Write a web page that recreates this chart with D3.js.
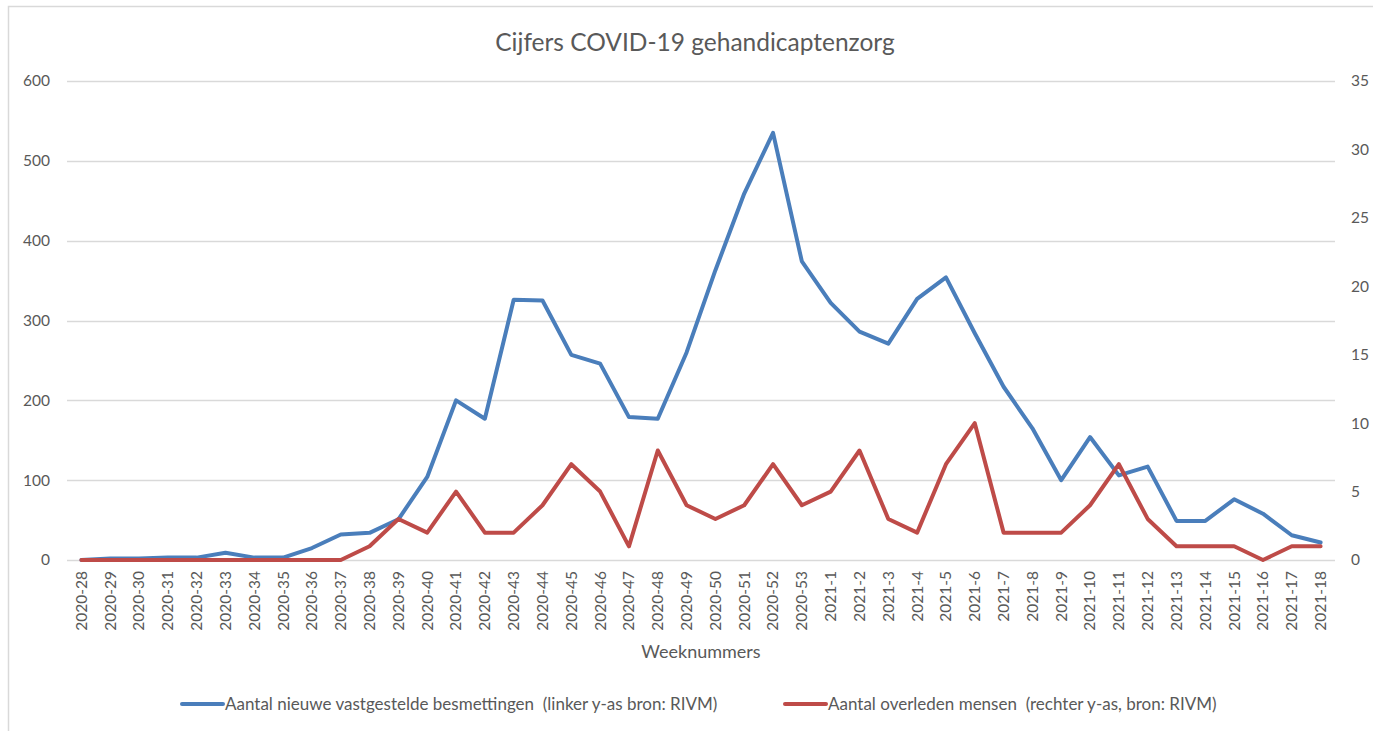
<!DOCTYPE html>
<html>
<head>
<meta charset="utf-8">
<script src="https://cdn.jsdelivr.net/npm/d3@7"></script>
<style>
  body { margin: 0; background: #fff; }
  svg text { font-family: Lato, "Open Sans", sans-serif; fill: #595959; }
</style>
</head>
<body>
<div id="chart"></div>
<script>
const weeks = [
  '2020-28','2020-29','2020-30','2020-31','2020-32','2020-33','2020-34','2020-35','2020-36','2020-37',
  '2020-38','2020-39','2020-40','2020-41','2020-42','2020-43','2020-44','2020-45','2020-46','2020-47',
  '2020-48','2020-49','2020-50','2020-51','2020-52','2020-53',
  '2021-1','2021-2','2021-3','2021-4','2021-5','2021-6','2021-7','2021-8','2021-9','2021-10',
  '2021-11','2021-12','2021-13','2021-14','2021-15','2021-16','2021-17','2021-18'
];
// linker y-as
const besmettingen = [
  0, 2, 2, 3, 3, 9, 3, 3, 15, 32,
  34, 51, 104, 200, 177, 326, 325, 257, 246, 179,
  177, 260, 363, 459, 535, 374,
  322, 286, 271, 327, 354, 284, 217, 165, 100, 154,
  106, 117, 49, 49, 76, 58, 31, 22
];
// rechter y-as
const overleden = [
  0, 0, 0, 0, 0, 0, 0, 0, 0, 0,
  1, 3, 2, 5, 2, 2, 4, 7, 5, 1,
  8, 4, 3, 4, 7, 4,
  5, 8, 3, 2, 7, 10, 2, 2, 2, 4,
  7, 3, 1, 1, 1, 0, 1, 1
];
const leftTicks = [0, 100, 200, 300, 400, 500, 600];
const rightTicks = [0, 5, 10, 15, 20, 25, 30, 35];

const title = 'Cijfers COVID-19 gehandicaptenzorg';
const xTitle = 'Weeknummers';
const legendItems = [
  { label: 'Aantal nieuwe vastgestelde besmettingen  (linker y-as bron: RIVM)', color: '#4A7EBB' },
  { label: 'Aantal overleden mensen  (rechter y-as, bron: RIVM)', color: '#BE4B48' }
];

const width = 1373, height = 731;
const plot = { left: 67, right: 1335, top: 81, bottom: 560 };

const svg = d3.select('#chart').append('svg')
  .attr('width', width)
  .attr('height', height);

// rand om de grafiek
svg.append('rect')
  .attr('x', 8.5).attr('y', 6.5)
  .attr('width', 1400).attr('height', 760)
  .attr('fill', 'none')
  .attr('stroke', '#d9d9d9')
  .attr('stroke-width', 1.5);

const x = d3.scaleBand().domain(weeks).range([plot.left, plot.right]);
const yL = d3.scaleLinear().domain([0, 600]).range([plot.bottom, plot.top]);
const yR = d3.scaleLinear().domain([0, 35]).range([plot.bottom, plot.top]);

// gridlines
svg.append('g')
  .selectAll('line')
  .data(leftTicks)
  .join('line')
  .attr('x1', plot.left).attr('x2', plot.right)
  .attr('y1', d => Math.round(yL(d)) + 0.5)
  .attr('y2', d => Math.round(yL(d)) + 0.5)
  .attr('stroke', '#d9d9d9')
  .attr('stroke-width', 1.3);

// linker as
const leftAxis = svg.append('g')
  .attr('transform', `translate(${plot.left},0)`)
  .call(d3.axisLeft(yL).tickValues(leftTicks).tickSize(0).tickPadding(17));
leftAxis.select('.domain').remove();
leftAxis.selectAll('text').style('font-size', '15.5px').attr('fill', '#595959');

// rechter as
const rightAxis = svg.append('g')
  .attr('transform', `translate(${plot.right},0)`)
  .call(d3.axisRight(yR).tickValues(rightTicks).tickSize(0).tickPadding(16));
rightAxis.select('.domain').remove();
rightAxis.selectAll('text').style('font-size', '15.5px').attr('fill', '#595959');

// x as
const xAxis = svg.append('g')
  .attr('transform', `translate(0,${plot.bottom})`)
  .call(d3.axisBottom(x).tickSize(0).tickPadding(0));
xAxis.select('.domain').remove();
xAxis.selectAll('text')
  .style('font-size', '15.5px')
  .attr('fill', '#595959')
  .attr('text-anchor', 'end')
  .attr('transform', 'rotate(-90)')
  .attr('x', -11)
  .attr('y', 0)
  .attr('dy', '0.35em');

const xc = d => x(d) + x.bandwidth() / 2;

const lineL = d3.line()
  .x((d, i) => xc(weeks[i]))
  .y(d => yL(d));
const lineR = d3.line()
  .x((d, i) => xc(weeks[i]))
  .y(d => yR(d));

svg.append('path')
  .datum(besmettingen)
  .attr('d', lineL)
  .attr('fill', 'none')
  .attr('stroke', legendItems[0].color)
  .attr('stroke-width', 4)
  .attr('stroke-linejoin', 'round')
  .attr('stroke-linecap', 'round');

svg.append('path')
  .datum(overleden)
  .attr('d', lineR)
  .attr('fill', 'none')
  .attr('stroke', legendItems[1].color)
  .attr('stroke-width', 4)
  .attr('stroke-linejoin', 'round')
  .attr('stroke-linecap', 'round');

// titels
svg.append('text')
  .attr('x', 695).attr('y', 51)
  .attr('text-anchor', 'middle')
  .style('font-size', '24.5px')
  .text(title);

svg.append('text')
  .attr('x', 701).attr('y', 658)
  .attr('text-anchor', 'middle')
  .style('font-size', '18px')
  .text(xTitle);

// legenda
const legendX = [182, 785];
const legend = svg.append('g')
  .selectAll('g')
  .data(legendItems)
  .join('g')
  .attr('transform', (d, i) => `translate(${legendX[i]},704)`);
legend.append('line')
  .attr('x1', 0).attr('x2', 41)
  .attr('stroke', d => d.color)
  .attr('stroke-width', 4)
  .attr('stroke-linecap', 'round');
legend.append('text')
  .attr('x', 43)
  .attr('dy', '0.35em')
  .style('font-size', '17px')
  .style('white-space', 'pre')
  .attr('xml:space', 'preserve')
  .text(d => d.label);
</script>
</body>
</html>
